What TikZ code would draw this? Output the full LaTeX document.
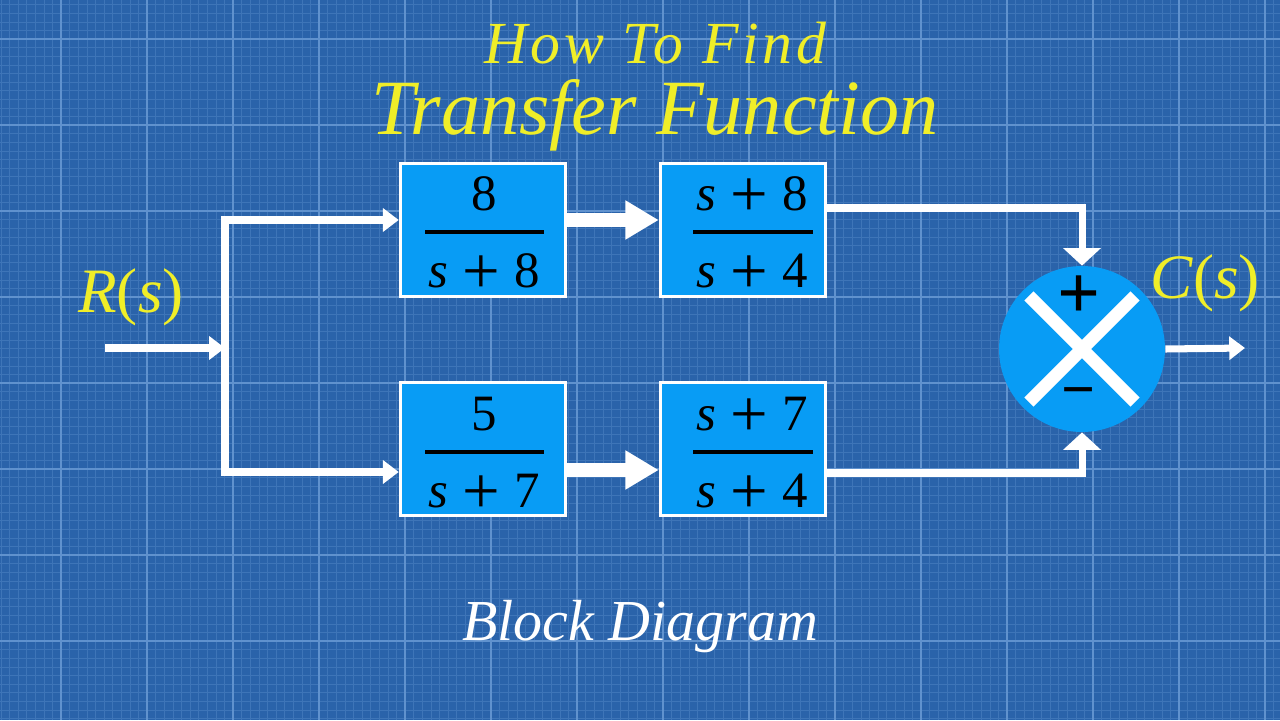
\documentclass[tikz,border=0pt]{standalone}
\usepackage{fontspec}
\setmainfont{Liberation Serif}
\usetikzlibrary{arrows.meta,positioning,calc}

\definecolor{paper}{RGB}{42,99,170}
\definecolor{gridfine}{RGB}{62,117,184}
\definecolor{gridbold}{RGB}{96,146,206}
\definecolor{boxfill}{RGB}{8,156,245}
\definecolor{titleyellow}{RGB}{240,238,40}

\newcommand{\splus}[1]{\textit{s}\hspace{0.28em}\raisebox{-3.5pt}{\fontsize{38}{40}\selectfont +}\hspace{0.28em}#1}

\begin{document}
\begin{tikzpicture}[x=0.02cm,y=-0.02cm]
	\tikzstyle{block}=[draw=white, line width=2pt, fill=boxfill, minimum width=3.3cm, minimum height=2.66cm, inner sep=0pt];
	\tikzstyle{frac}=[font=\fontsize{29}{34}\selectfont, text=black, anchor=base, inner sep=0pt];
	\tikzstyle{fracbar}=[line width=2pt, black];
	\tikzstyle{wire}=[white, line width=4pt];
	\tikzstyle{thin tip}=[-{Triangle[length=9pt,width=13pt]}];
	\tikzstyle{wide tip}=[-{Triangle[length=10pt,width=21pt]}];
	\tikzstyle{fat arrow}=[white, line width=8pt, -{Triangle[length=19pt,width=21pt]}];
	\tikzstyle{title}=[font=\fontsize{34}{40}\selectfont\itshape, text=titleyellow, anchor=base, inner sep=0pt];
	\tikzstyle{signal}=[font=\fontsize{36}{42}\selectfont, text=titleyellow, anchor=base, inner sep=0pt];
	\tikzstyle{sign}=[text=black, inner sep=0pt];

	% paper with grid
	\fill[paper] (0,0) rectangle (1280,720);
	\begin{scope}
		\clip (0,0) rectangle (1280,720);
		\foreach \i in {0,...,149} {
			\draw[gridfine, line width=0.3pt] ({0.8+8.6*\i},0) -- ({0.8+8.6*\i},720);
		}
		\foreach \i in {0,...,84} {
			\draw[gridfine, line width=0.3pt] (0,{4.6+8.6*\i}) -- (1280,{4.6+8.6*\i});
		}
		\foreach \i in {0,...,14} {
			\draw[gridbold, line width=0.7pt] ({61+86*\i},0) -- ({61+86*\i},720);
		}
		\foreach \i in {0,...,8} {
			\draw[gridbold, line width=0.7pt] (0,{39+86*\i}) -- (1280,{39+86*\i});
		}
	\end{scope}

	% titles
	\node[title] (t1) at (655,63) {\addfontfeatures{LetterSpace=6}How To Find};
	\node[title, font=\fontsize{44.5}{50}\selectfont\itshape] (t2) at (655,134) {Transfer Function};
	\node[title, text=white, font=\fontsize{33}{38}\selectfont\itshape] (sub) at (640,640) {Block Diagram};

	% blocks
	\node[block] (g1) at (483,230) {};
	\node[block] (g2) at (743,230) {};
	\node[block] (g3) at (483,449) {};
	\node[block] (g4) at (743,449) {};

	\node[frac] (g1num) at ($(g1.center)+(1,-20)$) {8};
	\node[frac] (g1den) at ($(g1.center)+(1,57)$) {\splus{8}};
	\draw[fracbar] ($(g1.center)+(-58,2)$) -- ($(g1.center)+(61,2)$);

	\node[frac] (g2num) at ($(g2.center)+(9,-20)$) {\splus{8}};
	\node[frac] (g2den) at ($(g2.center)+(9,57)$) {\splus{4}};
	\draw[fracbar] ($(g2.center)+(-50,2)$) -- ($(g2.center)+(70,2)$);

	\node[frac] (g3num) at ($(g3.center)+(1,-19)$) {5};
	\node[frac] (g3den) at ($(g3.center)+(1,58)$) {\splus{7}};
	\draw[fracbar] ($(g3.center)+(-58,3)$) -- ($(g3.center)+(61,3)$);

	\node[frac] (g4num) at ($(g4.center)+(9,-19)$) {\splus{7}};
	\node[frac] (g4den) at ($(g4.center)+(9,58)$) {\splus{4}};
	\draw[fracbar] ($(g4.center)+(-50,3)$) -- ($(g4.center)+(70,3)$);

	% summing junction
	\node[circle, fill=boxfill, minimum size=3.32cm, inner sep=0pt] (sum) at (1082,349) {};
	\draw[white, line width=7.4pt] ($(sum.center)!0.9!(sum.north west)$) -- ($(sum.center)!0.9!(sum.south east)$);
	\draw[white, line width=7.4pt] ($(sum.center)!0.9!(sum.north east)$) -- ($(sum.center)!0.9!(sum.south west)$);
	\node[sign, font=\fontsize{43}{48}\selectfont\bfseries] (plus) at (1079,297) {+};
	\node[sign, font=\fontsize{34}{40}\selectfont\bfseries] (minus) at (1079,399) {−};

	% signals
	\node[signal] (rs) at (131,312) {\textit{R}(\textit{s})};
	\node[signal] (cs) at (1205,298) {\textit{C}(\textit{s})};

	\coordinate (src) at (105,348);
	\coordinate (split) at (225,348);
	\coordinate (splittop) at (225,220);
	\coordinate (splitbot) at (225,472);
	\coordinate (out) at (1245,348);

	\draw[wire, thin tip] (src) -- (split);
	\draw[wire, thin tip] (split) |- (g1.west |- splittop);
	\draw[wire, thin tip] (split) |- (g3.west |- splitbot);

	\draw[fat arrow] ([yshift=0.2cm]g1.east) -- ([yshift=0.2cm]g2.west);
	\draw[fat arrow] ([yshift=-0.42cm]g3.east) -- ([yshift=-0.42cm]g4.west);

	\draw[wire, wide tip] ([yshift=0.44cm]g2.east) -| (sum.north);
	\draw[wire, wide tip] ([yshift=-0.48cm]g4.east) -| (sum.south);
	\draw[wire, thin tip] (sum.east) -- (out);
\end{tikzpicture}
\end{document}
